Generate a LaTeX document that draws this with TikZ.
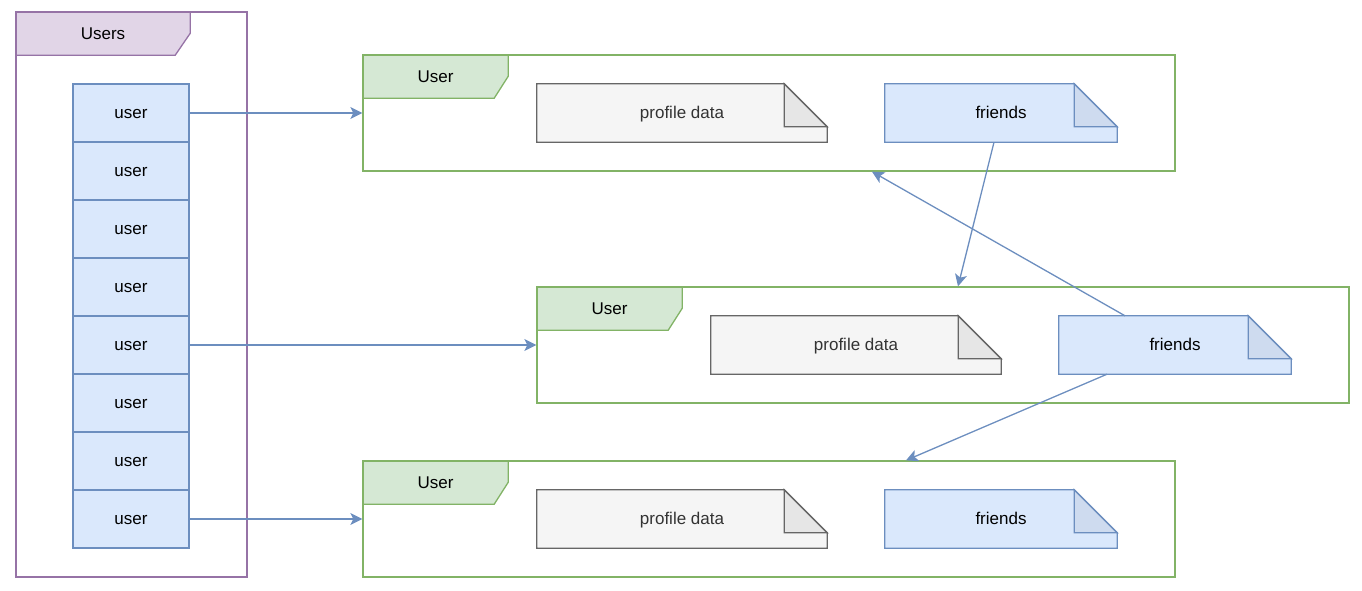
\documentclass[tikz,border=0pt]{standalone}
\usepackage{fontspec}
\setmainfont{Liberation Sans}
\usetikzlibrary{arrows.meta}
\pgfdeclarelayer{background}
\pgfsetlayers{background,main}
\definecolor{blueFill}{HTML}{DAE8FC}
\definecolor{blueStroke}{HTML}{6C8EBF}
\definecolor{blueFold}{HTML}{CEDBEF}
\definecolor{greyFill}{HTML}{F5F5F5}
\definecolor{greyStroke}{HTML}{666666}
\definecolor{greyFold}{HTML}{E6E6E6}
\definecolor{greyText}{HTML}{333333}
\definecolor{greenFill}{HTML}{D5E8D4}
\definecolor{greenStroke}{HTML}{82B366}
\definecolor{purpleFill}{HTML}{E1D5E7}
\definecolor{purpleStroke}{HTML}{9673A6}
\tikzset{
  lw/.style={line width=1.3pt},
  txt/.style={font=\fontsize{17}{20}\selectfont, text height=12pt, text depth=0.6pt},
  userbox/.style={lw, txt, draw=blueStroke, fill=blueFill, minimum width=116pt, minimum height=58pt, inner sep=0pt},
  frame/.style={lw, draw=greenStroke, minimum width=812pt, minimum height=116pt, inner sep=0pt},
  hdr/.style={txt, minimum width=145pt, minimum height=43pt, inner sep=0pt},
  notebox/.style={txt, minimum height=58pt, inner sep=0pt},
  profnote/.style={notebox, minimum width=290pt, text=greyText},
  frnote/.style={notebox, minimum width=232pt},
  conn/.style={lw, draw=blueStroke, arrows={-Stealth[length=12pt, width=12pt, inset=3pt]}}
}
\begin{document}
\begin{tikzpicture}[x=1pt, y=-1pt]
\useasboundingbox (0,0) rectangle (1362,590);

% Users frame
\node[lw, draw=purpleStroke, minimum width=231pt, minimum height=565pt, inner sep=0pt] (usersF) at (131.5,294.5) {};
\node[hdr, minimum width=174pt] (usersH) at (103,33.5) {Users};

% user list
\foreach \i in {1,...,8} {
  \node[userbox] (u\i) at (131, {113+58*(\i-1)}) {user};
}

% frames
\node[frame] (f1) at (769,113) {};
\node[frame] (f2) at (943,345) {};
\node[frame] (f3) at (769,519) {};
\node[hdr] (h1) at (435.5,76.5) {User};
\node[hdr] (h2) at (609.5,308.5) {User};
\node[hdr] (h3) at (435.5,482.5) {User};

% notes
\node[profnote] (p1) at (682,113) {profile data};
\node[frnote] (r1) at (1001,113) {friends};
\node[profnote] (p2) at (856,345) {profile data};
\node[frnote] (r2) at (1175,345) {friends};
\node[profnote] (p3) at (682,519) {profile data};
\node[frnote] (r3) at (1001,519) {friends};

\begin{pgfonlayer}{background}
  % Users header
  \draw[lw, draw=purpleStroke, fill=purpleFill] (usersH.north west) -- (usersH.north east) -- ([yshift=-21.5pt]usersH.north east) -- ([xshift=-15pt]usersH.south east) -- (usersH.south west) -- cycle;
  % user headers
  \foreach \h in {h1,h2,h3} {
    \draw[lw, draw=greenStroke, fill=greenFill] (\h.north west) -- (\h.north east) -- ([yshift=-21.5pt]\h.north east) -- ([xshift=-14pt]\h.south east) -- (\h.south west) -- cycle;
  }
  % notes
  \foreach \n/\fc/\dc/\sc in {p1/greyFill/greyFold/greyStroke, p2/greyFill/greyFold/greyStroke, p3/greyFill/greyFold/greyStroke, r1/blueFill/blueFold/blueStroke, r2/blueFill/blueFold/blueStroke, r3/blueFill/blueFold/blueStroke} {
    \draw[lw, draw=\sc, fill=\fc, line join=miter] (\n.north west) -- ([xshift=-43pt]\n.north east) -- ([yshift=-43pt]\n.north east) -- (\n.south east) -- (\n.south west) -- cycle;
    \draw[lw, draw=\sc, fill=\dc, line join=miter] ([xshift=-43pt]\n.north east) -- ([xshift=-43pt, yshift=-43pt]\n.north east) -- ([yshift=-43pt]\n.north east) -- cycle;
  }
\end{pgfonlayer}

% connectors
\draw[conn] (u1.east) -- (f1.west);
\draw[conn] (u5.east) -- (f2.west);
\draw[conn] (u8.east) -- (f3.west);
\draw[conn] ([xshift=-7pt]r1.south) -- ([xshift=15pt]f2.north);
\draw[conn] ([xshift=-50pt]r2.north) -- ([xshift=103pt]f1.south);
\draw[conn] ([xshift=-68pt]r2.south) -- ([xshift=137pt]f3.north);
\end{tikzpicture}
\end{document}
